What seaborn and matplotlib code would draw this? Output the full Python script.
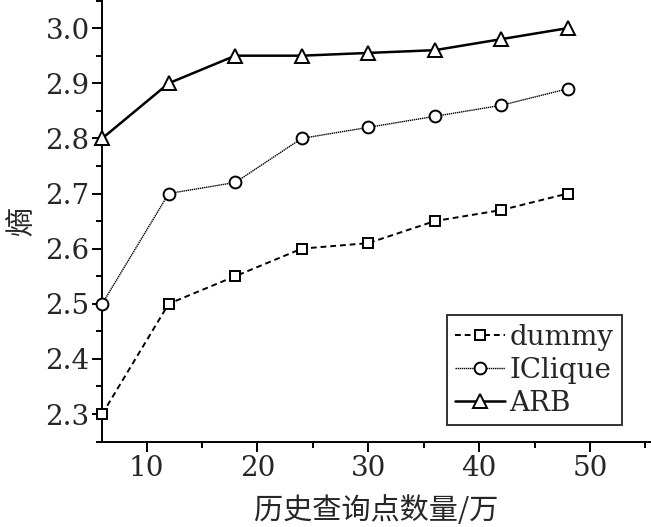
import numpy as np
import pandas as pd
import seaborn as sns
import matplotlib.pyplot as plt
from matplotlib.ticker import MultipleLocator

x_vals = [6, 12, 18, 24, 30, 36, 42, 48]
dummy = [2.30, 2.50, 2.55, 2.60, 2.61, 2.65, 2.67, 2.70]
iclique = [2.50, 2.70, 2.72, 2.80, 2.82, 2.84, 2.86, 2.89]
arb = [2.80, 2.90, 2.95, 2.95, 2.955, 2.96, 2.98, 3.00]

sns.set_style("ticks")
plt.rcParams['font.family'] = ['DejaVu Serif', 'Noto Sans CJK SC']
plt.rcParams['axes.linewidth'] = 1.4

fig = plt.figure(figsize=(6.51, 5.27), dpi=100)
ax = fig.add_axes([0.157, 0.161, 0.843, 0.839])

series = [
    ("dummy", dummy, "s", (3, 2), 1.4, 7.5),
    ("IClique", iclique, "o", (1, 0.5), 1.0, 8.5),
    ("ARB", arb, "^", "", 1.8, 9.5),
]
for name, vals, mk, dash, lw, ms in series:
    df = pd.DataFrame({"x": x_vals, "y": vals})
    sns.lineplot(data=df, x="x", y="y", ax=ax, color="black", marker=mk,
                 markersize=ms, markerfacecolor="white", markeredgecolor="black",
                 markeredgewidth=1.4, linewidth=lw, dashes=dash, label=name,
                 clip_on=False, zorder=3)

ax.set_xlim(6, 55.5)
ax.set_ylim(2.249, 3.051)
ax.xaxis.set_major_locator(MultipleLocator(10))
ax.xaxis.set_minor_locator(MultipleLocator(5))
ax.yaxis.set_major_locator(MultipleLocator(0.1))
ax.yaxis.set_minor_locator(MultipleLocator(0.05))
ax.yaxis.set_major_formatter(plt.FormatStrFormatter("%.1f"))
ax.tick_params(which="major", length=7, width=1.4, labelsize=20, color="black", pad=2)
ax.tick_params(which="minor", length=4, width=1.4, color="black")
for s in ["top", "right"]:
    ax.spines[s].set_visible(False)
for s in ["left", "bottom"]:
    ax.spines[s].set_color("black")

ax.set_xlabel("历史查询点数量/万", fontsize=21, family=['Noto Sans CJK SC'], labelpad=10)
ax.set_ylabel("熵", fontsize=21, family=['Noto Sans CJK SC'], labelpad=6)

leg = ax.legend(loc="lower left", bbox_to_anchor=(0.628, 0.038), borderaxespad=0,
                fontsize=20, frameon=True, fancybox=False, handlelength=1.8,
                handletextpad=0.15, labelspacing=0.22, borderpad=0.3)
leg.get_frame().set_edgecolor("black")
leg.get_frame().set_linewidth(1.4)

plt.savefig("out.png", dpi=100)
